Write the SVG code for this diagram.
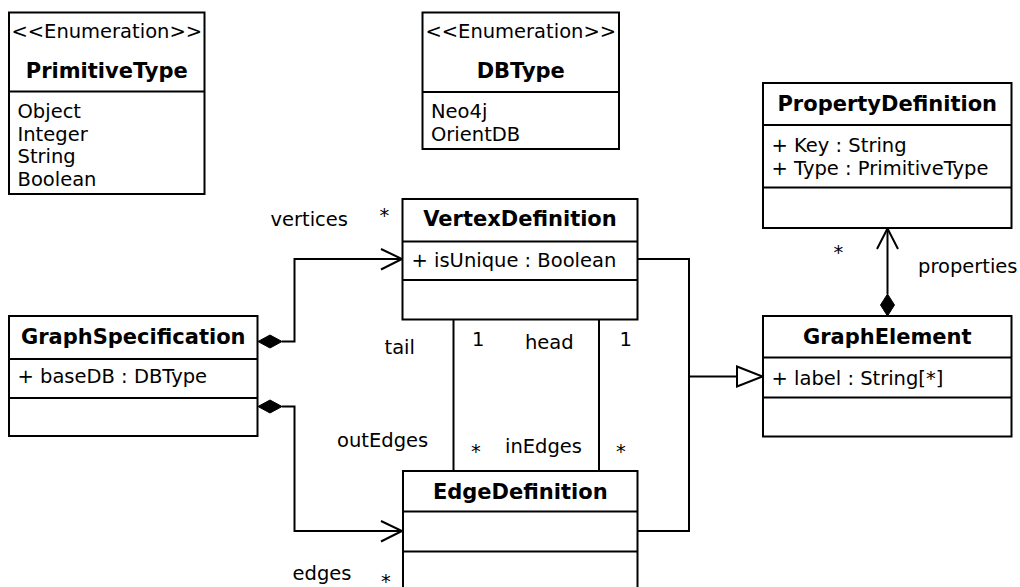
<svg xmlns="http://www.w3.org/2000/svg" width="1020" height="587" viewBox="0 0 1020 587">
<defs>
<style>
.box{fill:#fff;stroke:#000;stroke-width:2}
.sep{stroke:#000;stroke-width:2}
.t{font-family:"DejaVu Sans",sans-serif;font-size:19.5px;fill:#000}
.b{font-family:"DejaVu Sans",sans-serif;font-size:21px;font-weight:bold;fill:#000;text-anchor:middle}
.c{text-anchor:middle}
.ln{fill:none;stroke:#000;stroke-width:2}
.dia{fill:#000;stroke:#000;stroke-width:1}
.tri{fill:#fff;stroke:#000;stroke-width:2}
</style>
</defs>
<rect width="1020" height="587" fill="#fff"/>

<g id="connectors">
  <!-- vertices composition -->
  <path class="ln" d="M282,341.5 H294.5 V259 H401"/>
  <polyline class="ln" points="381,249 402,259 381,269.5"/>
  <polygon class="dia" points="258,341.5 270,335 282,341.5 270,348"/>
  <!-- edges composition -->
  <path class="ln" d="M282,406.5 H294.5 V531 H401"/>
  <polyline class="ln" points="381,521 402,531 381,541.5"/>
  <polygon class="dia" points="258,406.5 270,400 282,406.5 270,413"/>
  <!-- properties composition -->
  <path class="ln" d="M887.5,294 V229"/>
  <polyline class="ln" points="877,249 887.5,228.5 898,249"/>
  <polygon class="dia" points="887.5,294 894.5,305 887.5,316 880.5,305"/>
  <!-- tail / head -->
  <path class="ln" d="M453.5,320 V471"/>
  <path class="ln" d="M599,320 V471"/>
  <!-- generalization -->
  <path class="ln" d="M638,259 H689 V531 H638"/>
  <path class="ln" d="M689,376.5 H737"/>
  <polygon class="tri" points="737,366.5 762.5,376.5 737,386.5"/>
  <!-- labels -->
  <text class="t" x="270.5" y="225.5">vertices</text>
  <text class="t" x="379.5" y="221.5">*</text>
  <text class="t" x="833.5" y="259">*</text>
  <text class="t" x="918" y="273">properties</text>
  <text class="t" x="384.5" y="354">tail</text>
  <text class="t" x="472" y="346">1</text>
  <text class="t" x="525" y="349">head</text>
  <text class="t" x="619.5" y="346">1</text>
  <text class="t" x="337" y="446.5">outEdges</text>
  <text class="t" x="471" y="457.5">*</text>
  <text class="t" x="505" y="453">inEdges</text>
  <text class="t" x="616" y="457.5">*</text>
  <text class="t" x="292.5" y="580">edges</text>
  <text class="t" x="381" y="587.5">*</text>
</g>

<g id="PrimitiveType">
  <rect class="box" x="9" y="12.5" width="195.5" height="181.5"/>
  <line class="sep" x1="9" y1="91.5" x2="204.5" y2="91.5"/>
  <text class="t c" x="106.75" y="37.5">&lt;&lt;Enumeration&gt;&gt;</text>
  <text class="b" x="106.75" y="77.5">PrimitiveType</text>
  <text class="t" x="17.5" y="118">Object</text>
  <text class="t" x="17.5" y="140.5">Integer</text>
  <text class="t" x="17.5" y="163">String</text>
  <text class="t" x="17.5" y="185.5">Boolean</text>
</g>

<g id="DBType">
  <rect class="box" x="422.5" y="12.5" width="196.5" height="136.5"/>
  <line class="sep" x1="422.5" y1="92" x2="619" y2="92"/>
  <text class="t c" x="520.75" y="37.5">&lt;&lt;Enumeration&gt;&gt;</text>
  <text class="b" x="520.75" y="77.5">DBType</text>
  <text class="t" x="431" y="118">Neo4j</text>
  <text class="t" x="431" y="140.5">OrientDB</text>
</g>

<g id="PropertyDefinition">
  <rect class="box" x="763" y="83" width="248.5" height="145"/>
  <line class="sep" x1="763" y1="125" x2="1011.5" y2="125"/>
  <line class="sep" x1="763" y1="187.5" x2="1011.5" y2="187.5"/>
  <text class="b" x="887.25" y="110.5">PropertyDefinition</text>
  <text class="t" x="771.5" y="151.5">+ Key : String</text>
  <text class="t" x="771.5" y="174.5">+ Type : PrimitiveType</text>
</g>

<g id="GraphElement">
  <rect class="box" x="763" y="316" width="248.5" height="120.5"/>
  <line class="sep" x1="763" y1="357.5" x2="1011.5" y2="357.5"/>
  <line class="sep" x1="763" y1="397.5" x2="1011.5" y2="397.5"/>
  <text class="b" x="887.25" y="344">GraphElement</text>
  <text class="t" x="771.5" y="385">+ label : String[*]</text>
</g>

<g id="GraphSpecification">
  <rect class="box" x="9" y="316" width="248.5" height="120"/>
  <line class="sep" x1="9" y1="359" x2="257.5" y2="359"/>
  <line class="sep" x1="9" y1="398" x2="257.5" y2="398"/>
  <text class="b" x="133.25" y="344">GraphSpecification</text>
  <text class="t" x="17.5" y="383">+ baseDB : DBType</text>
</g>

<g id="VertexDefinition">
  <rect class="box" x="402.5" y="199" width="235" height="120.5"/>
  <line class="sep" x1="402.5" y1="241.5" x2="637.5" y2="241.5"/>
  <line class="sep" x1="402.5" y1="280" x2="637.5" y2="280"/>
  <text class="b" x="520" y="226">VertexDefinition</text>
  <text class="t" x="411.5" y="267">+ isUnique : Boolean</text>
</g>

<g id="EdgeDefinition">
  <rect class="box" x="403" y="471" width="234.5" height="125"/>
  <line class="sep" x1="403" y1="511.5" x2="637.5" y2="511.5"/>
  <line class="sep" x1="403" y1="551.5" x2="637.5" y2="551.5"/>
  <text class="b" x="520.25" y="499">EdgeDefinition</text>
</g>
</svg>
